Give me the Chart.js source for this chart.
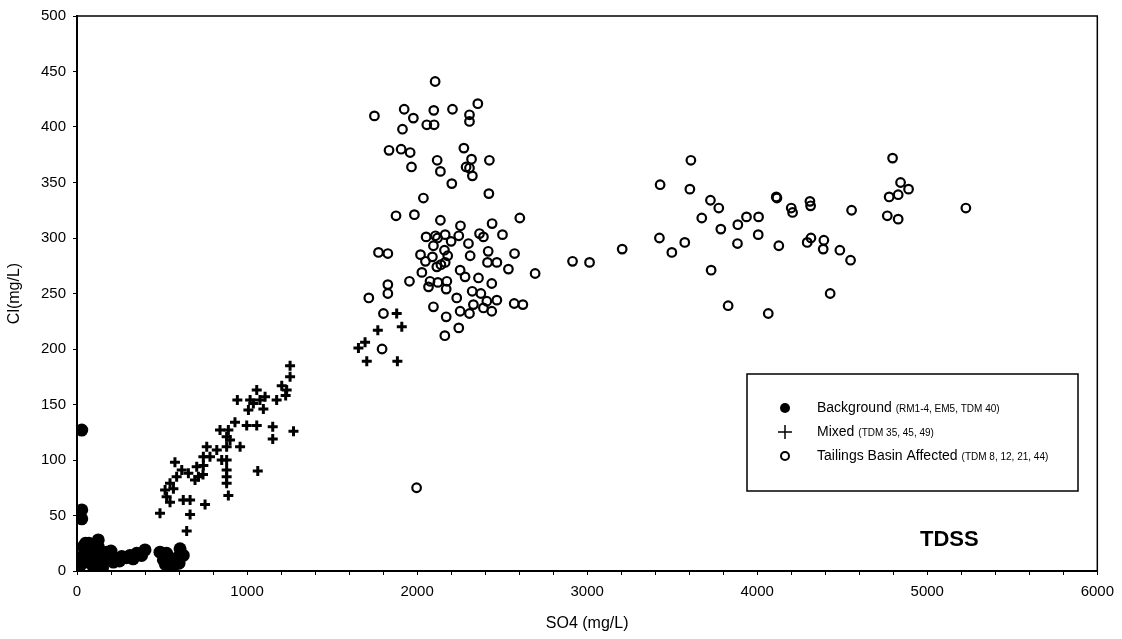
<!DOCTYPE html>
<html>
<head>
<meta charset="utf-8">
<script src="https://cdn.jsdelivr.net/npm/chart.js@4.4.0/dist/chart.umd.min.js"></script>
<style>
  html, body { margin: 0; padding: 0; background: #fff; }
  #wrap { width: 1122px; height: 639px; }
</style>
</head>
<body>
<div id="wrap"><canvas id="chart" width="1122" height="639"></canvas></div>
<script>
// Background (RM1-4, EM5, TDM 40)
const bgSO4 = [28, 28, 28, 37, 37, 18, 96, 96, 125, 125, 175, 194, 214, 165, 263, 312, 351, 400, 86, 45,
  20, 60, 140, 230, 290, 110, 70, 488, 527, 508, 557, 606, 625, 576, 537, 590, 10, 150, 380, 330,
  120, 200, 250, 50, 100, 520, 560, 600];
const bgCl = [127, 55, 47, 22, 10, 5, 4, 16, 28, 22, 17, 13, 8, 9, 13, 14, 16, 19, 23, 16,
  12, 8, 6, 10, 12, 20, 25, 17, 16, 10, 10, 20, 14, 8, 4, 12, 2, 3, 14, 11,
  12, 18, 9, 25, 10, 6, 2, 7];

// Mixed (TDM 35, 45, 49)
const mixSO4 = [1253, 1253, 1233, 1204, 1227, 1174, 1273, 1151, 1151, 943, 1057, 1018, 1076, 1037, 1106,
  1008, 1096, 1063, 929, 998, 1057, 841, 890, 880, 900, 959, 880, 763, 822, 743, 782, 851, 880, 704,
  743, 880, 880, 880, 890, 694, 655, 576, 616, 586, 547, 567, 518, 527, 488, 547, 625, 665, 753, 665,
  645, 714, 741, 1880, 1769, 1910, 1694, 1655, 1704, 1884];
const mixCl = [185, 175, 163, 167, 158, 154, 126, 130, 119, 154, 163, 154, 154, 151, 157,
  145, 146, 90, 134, 131, 131, 127, 127, 121, 118, 112, 112, 112, 109, 103, 103, 100, 100, 94,
  95, 91, 85, 79, 68, 82, 88, 98, 91, 85, 79, 74, 73, 67, 52, 62, 64, 64, 60, 51,
  36, 85, 87, 232, 217, 220, 206, 201, 189, 189];

// Tailings Basin Affected (TDM 8, 12, 21, 44)
const tailSO4 = [2106, 1749, 1924, 1978, 1914, 2098, 2057, 2100, 2208, 2357, 2308, 2308, 1835, 1906, 1959,
  1967, 2118, 2137, 2275, 2320, 2425, 2288, 2308, 2325, 2204, 2422, 2037, 1876, 1984, 2137, 2255, 2441,
  2604, 2502, 2053, 2108, 2165, 2245, 2367, 2390, 1773, 1828, 2020, 2096, 2161, 2302, 2312, 2418, 2573,
  2414, 2469, 2537, 2049, 2116, 2165, 2028, 2076, 1955, 2253, 2282, 2175, 2122, 2361, 2439, 1828, 1828,
  2067, 2171, 2324, 2375, 2469, 2410, 2233, 1716, 2571, 2622, 2331, 2390, 2439, 2096, 2253, 2308, 1802,
  2171, 2245, 2163, 1794, 2090, 2140, 2180, 2200, 2120, 1997,
  2694, 2914, 3014, 3206, 3429, 3425, 3498, 3574, 3610, 3604, 3674, 3725, 3774, 3786, 3729, 3829, 3886,
  3937, 3884, 4008, 4006, 4065, 4112, 4116, 4127, 4200, 4208, 4310, 4314, 4316, 4294, 4392, 4388, 4486,
  4429, 4549, 4555, 4796, 4843, 4890, 4829, 4776, 4765, 4829, 5227];
const tailCl = [441, 410, 416, 408, 398, 415, 402, 402, 416, 421, 411, 405, 379, 380, 377,
  364, 370, 360, 381, 371, 370, 364, 363, 356, 349, 340, 336, 320, 321, 316, 311, 313,
  318, 303, 301, 302, 303, 302, 304, 301, 287, 286, 285, 293, 289, 295, 284, 288, 286,
  278, 278, 272, 279, 274, 278, 269, 261, 261, 271, 265, 261, 260, 264, 259, 258, 250,
  256, 254, 252, 250, 244, 243, 246, 246, 241, 240, 240, 237, 234, 238, 234, 232, 232,
  229, 219, 212, 200, 283, 276, 284, 297, 300, 75,
  268, 279, 278, 290, 348, 300, 287, 296, 370, 344, 318, 334, 327, 308, 271, 239, 312,
  319, 295, 319, 303, 232, 337, 336, 293, 327, 323, 333, 329, 300, 296, 298, 290, 289,
  250, 280, 325, 372, 350, 344, 339, 337, 320, 317, 327];

const xTicks = [0, 1000, 2000, 3000, 4000, 5000, 6000];
const legendItems = [
  { label: "Background", note: "(RM1-4, EM5, TDM 40)", style: "dot" },
  { label: "Mixed", note: "(TDM 35, 45, 49)", style: "plus" },
  { label: "Tailings Basin Affected", note: "(TDM 8, 12, 21, 44)", style: "ring" }
];

const FONT = "'Liberation Sans', Arial, sans-serif";
Chart.defaults.font.family = FONT;
Chart.defaults.color = "#000";

function toPoints(xs, ys) {
  return xs.map((x, i) => ({ x: x, y: ys[i] }));
}

// frame, legend box and the TDSS note
const notesPlugin = {
  id: "notes",
  afterDraw: function(chart) {
    const ctx = chart.ctx;
    const a = chart.chartArea;
    ctx.save();
    ctx.strokeStyle = "#000";
    ctx.lineWidth = 1.5;
    ctx.strokeRect(a.left, a.top, a.right - a.left, a.bottom - a.top);

    // legend box
    ctx.strokeRect(747, 374, 331, 117);
    let rowY = [408, 432, 456];
    legendItems.forEach(function(item, i) {
      let y = rowY[i];
      let mx = 785;
      ctx.fillStyle = "#000";
      ctx.strokeStyle = "#000";
      if (item.style == "dot") {
        ctx.beginPath();
        ctx.arc(mx, y, 5, 0, Math.PI * 2);
        ctx.fill();
      } else if (item.style == "plus") {
        ctx.lineWidth = 1.5;
        ctx.beginPath();
        ctx.moveTo(mx - 7, y); ctx.lineTo(mx + 7, y);
        ctx.moveTo(mx, y - 7); ctx.lineTo(mx, y + 7);
        ctx.stroke();
      } else {
        ctx.lineWidth = 2;
        ctx.beginPath();
        ctx.arc(mx, y, 4, 0, Math.PI * 2);
        ctx.stroke();
      }
      ctx.textBaseline = "middle";
      ctx.textAlign = "left";
      ctx.font = "14px " + FONT;
      ctx.fillText(item.label, 817, y);
      let w = ctx.measureText(item.label).width;
      ctx.font = "10px 'Liberation Sans Narrow', " + FONT;
      ctx.fillText(item.note, 817 + w + 4, y + 1);
    });

    ctx.font = "bold 22px " + FONT;
    ctx.textAlign = "left";
    ctx.textBaseline = "middle";
    ctx.fillText("TDSS", 920, 540);
    ctx.restore();
  }
};

new Chart(document.getElementById("chart"), {
  type: "scatter",
  data: {
    datasets: [
      {
        label: "Background",
        data: toPoints(bgSO4, bgCl),
        pointStyle: "circle",
        pointRadius: 6.5,
        backgroundColor: "#000",
        borderColor: "#000",
        borderWidth: 0
      },
      {
        label: "Mixed",
        data: toPoints(mixSO4, mixCl),
        pointStyle: "cross",
        pointRadius: 5,
        borderColor: "#000",
        borderWidth: 3
      },
      {
        label: "Tailings Basin Affected",
        data: toPoints(tailSO4, tailCl),
        pointStyle: "circle",
        pointRadius: 4.3,
        backgroundColor: "rgba(0,0,0,0)",
        borderColor: "#000",
        borderWidth: 2.2
      }
    ]
  },
  options: {
    responsive: false,
    animation: false,
    layout: { padding: { top: 14, right: 24, left: 0, bottom: 0 } },
    plugins: {
      legend: { display: false },
      tooltip: { enabled: false }
    },
    scales: {
      x: {
        type: "linear",
        min: 0,
        max: 6000,
        afterFit: function(scale) { scale.height = 68; },
        ticks: {
          stepSize: 200,
          autoSkip: false,
          maxRotation: 0,
          padding: 8,
          font: { size: 15 },
          callback: function(v) { return xTicks.indexOf(v) >= 0 ? String(v) : ""; }
        },
        grid: { drawOnChartArea: false, drawTicks: true, tickLength: 4, color: "#000", lineWidth: 1 },
        border: { display: true, color: "#000", width: 2 },
        title: { display: true, text: "SO4 (mg/L)", font: { size: 16 }, padding: { top: 0, bottom: 6 } }
      },
      y: {
        type: "linear",
        min: 0,
        max: 500,
        afterFit: function(scale) { scale.width = 77; },
        ticks: { stepSize: 50, padding: 7, font: { size: 15 } },
        grid: { drawOnChartArea: false, drawTicks: true, tickLength: 4, color: "#000", lineWidth: 1 },
        border: { display: true, color: "#000", width: 2 },
        title: { display: true, text: "Cl(mg/L)", font: { size: 16 }, padding: { top: 5, bottom: 0 } }
      }
    }
  },
  plugins: [notesPlugin]
});
</script>
</body>
</html>
